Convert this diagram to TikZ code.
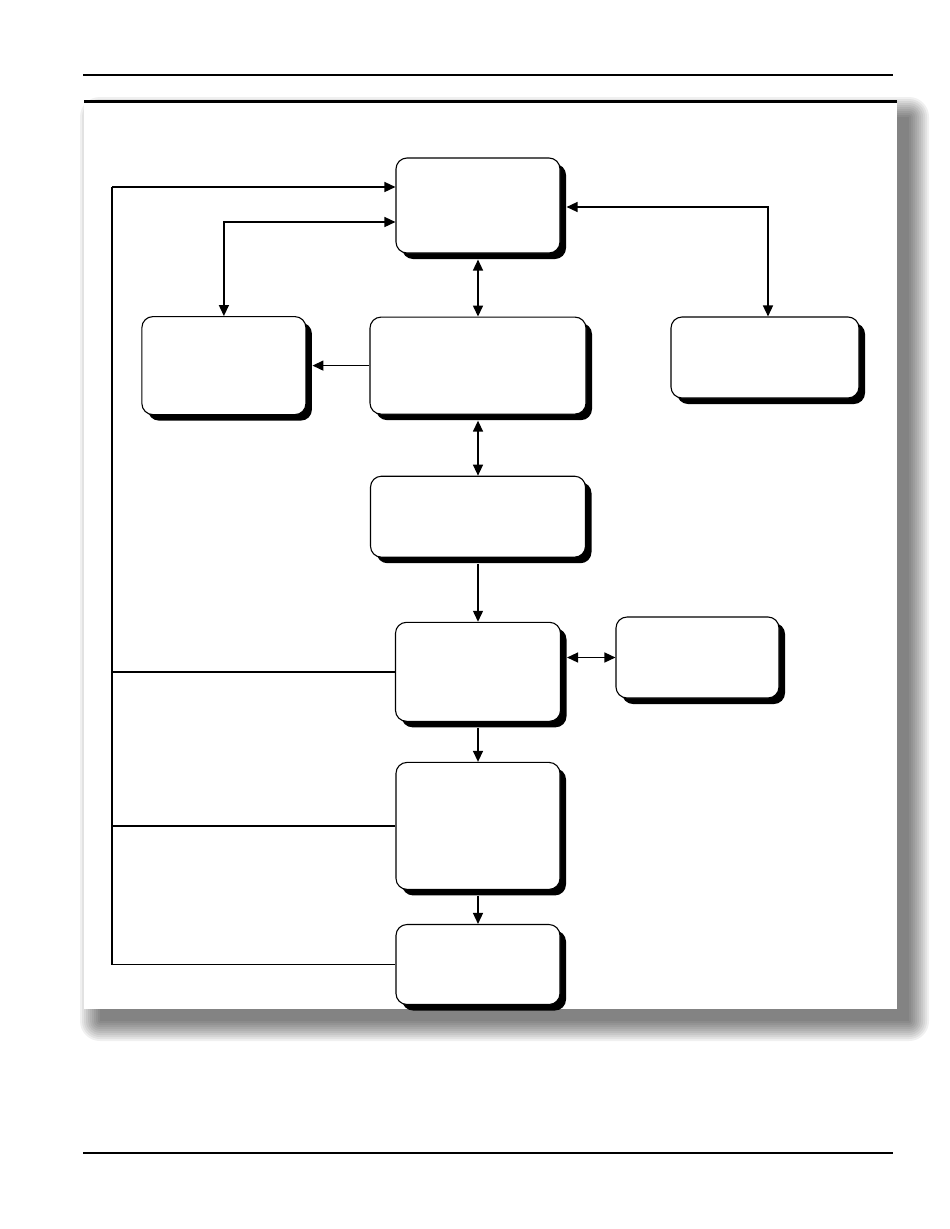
\documentclass[tikz,border=0pt]{standalone}
\usetikzlibrary{arrows.meta,positioning,calc,shadows}

\tikzset{
  block/.style={draw,rounded corners=11pt,fill=white,line width=1.1pt,inner sep=0pt,
    drop shadow={shadow xshift=6pt,shadow yshift=-6pt,fill=black,opacity=1}},
  link/.style={line width=1.4pt},
  fromshade/.style={shorten <=6pt},
  toshade/.style={shorten >=6pt},
}

\begin{document}
\begin{tikzpicture}[x=1pt,y=-1pt,>={Triangle[length=11pt,width=10pt]}]
  \useasboundingbox (0,0) rectangle (950,1229);

  % page rules and framed panel
  \draw[line width=1.5pt] (83,75) -- (893,75);
  \draw[line width=1.5pt] (83,1153) -- (893,1153);
  \foreach \r in {0,2,...,20}
    \fill[black,opacity=0.06,rounded corners=\r pt] ({100-\r},{117-\r}) rectangle ({909+\r},{1021+\r});
  \fill[white] (84,101) rectangle (897,1009);
  \draw[line width=3pt] (84,101) -- (897,101);

  % blocks
  \node[block,minimum width=164pt,minimum height=95pt] (A) at (478,205.5) {};
  \node[block,minimum width=216pt,minimum height=97pt,below=63pt of A] (C) {};
  \node[block,minimum width=164pt,minimum height=98pt,left=63pt of C] (B) {};
  \node[block,minimum width=188pt,minimum height=81pt] (D) at (765,357.5) {};
  \node[block,minimum width=215pt,minimum height=81pt,below=61pt of C] (E) {};
  \node[block,minimum width=165pt,minimum height=99pt,below=64pt of E] (F) {};
  \node[block,minimum width=163pt,minimum height=81pt] (G) at (697.5,657.5) {};
  \node[block,minimum width=164pt,minimum height=127pt,below=40pt of F] (H) {};
  \node[block,minimum width=164pt,minimum height=80pt,below=34pt of H] (I) {};

  % feedback bus on the left
  \coordinate (busTop) at (112,187);
  \coordinate (lknee) at (227,222);
  \coordinate (rknee) at (768,207);
  \draw[link] (busTop) |- (I.west);
  \draw[link,->] (busTop) -- (busTop -| A.west);
  \draw[link] (F.west) -- (F.west -| busTop);
  \draw[link] (H.west) -- (H.west -| busTop);
  \draw[link,<->] (B.north) |- (lknee -| A.west);
  \draw[link,<->,toshade] (D.north -| rknee) |- (rknee -| A.east);

  % main chain
  \draw[link,<->,fromshade] (A.south) -- (C.north);
  \draw[link,->,toshade] (C.west) -- (B.east);
  \draw[link,<->,fromshade] (C.south) -- (E.north);
  \draw[link,->,fromshade] (E.south) -- (F.north);
  \draw[link,<->,fromshade] (F.east |- G.west) -- (G.west);
  \draw[link,->,fromshade] (F.south) -- (H.north);
  \draw[link,->,fromshade] (H.south) -- (I.north);
\end{tikzpicture}
\end{document}
